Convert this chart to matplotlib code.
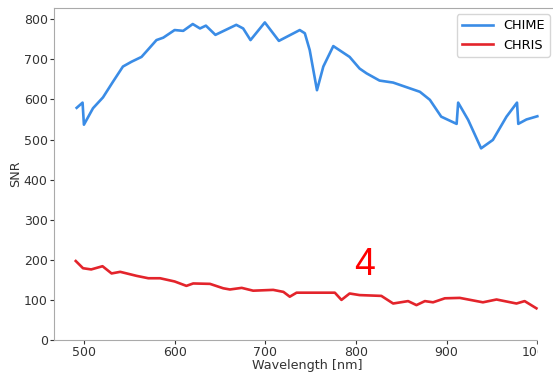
import matplotlib.pyplot as plt

# CHIME SNR
chime_wl = [492, 498.5, 500, 510, 521, 532, 543, 552.5, 563.5, 571, 580, 587.5,
            600, 609.5, 620, 628, 634.5, 645, 668, 675.6, 683.7, 699.5, 715, 738,
            743.6, 749, 757, 764, 775, 793, 804, 811.7, 826, 841, 870.5, 881.5,
            894, 911, 912.7, 923.7, 938, 951, 966, 977.6, 979, 988, 1000]
chime_snr = [579, 592, 537, 578, 605, 644, 682, 694, 706, 725, 748, 754,
             773, 771, 788, 777, 784, 761, 786, 777, 748, 792, 746, 773,
             765, 723, 623, 682, 733, 706, 677, 665, 647, 642, 619, 599,
             557, 539, 592, 549, 478, 499, 557, 592, 539, 550, 558]

# CHRIS SNR
chris_wl = [491, 499, 508, 520.5, 530.5, 540, 558, 571, 584, 600, 613, 620.5,
            639, 653.6, 661, 674, 686.6, 708.7, 720, 727, 734.5, 776.7, 784, 793,
            804, 828, 841, 857.5, 866.7, 876, 885, 898, 914.5, 940, 955, 977,
            986, 999]
chris_snr = [197, 179, 176, 184, 166, 170, 160, 154, 154, 146, 135, 141,
             140, 129, 126, 130, 123, 125, 120, 108, 118, 118, 100, 116,
             112, 110, 91, 97, 87, 97, 94, 104, 105, 94, 101, 91,
             97, 79]

fig = plt.figure(figsize=(5.53, 3.73), dpi=100)
# axes runs past the right edge, as in the cropped reference
ax = fig.add_axes([54 / 553, 33 / 373, 506 / 553, 332 / 373])

ax.plot(chime_wl, chime_snr, color='#3a8ce6', lw=1.9, label='CHIME')
ax.plot(chris_wl, chris_snr, color='#e3242b', lw=1.9, label='CHRIS')
ax.set_ylim(0, 828)
ax.set_xlim(467, 1025)
ax.set_xticks([500, 600, 700, 800, 900, 1000])
ax.set_yticks(range(0, 801, 100))

ax.tick_params(labelsize=9, colors='#333333', length=3, pad=1.5)
ax.spines['right'].set_visible(False)
for s in ax.spines.values():
    s.set_color('#aaaaaa')
ax.set_xlabel('Wavelength [nm]', fontsize=9.2, color='#333333', labelpad=0)
ax.set_ylabel('SNR', fontsize=9.2, color='#333333', labelpad=1)
ax.legend(loc='upper right', fontsize=9.3, handlelength=2.4,
          bbox_to_anchor=(550 / 553, 1 - 14 / 373),
          bbox_transform=fig.transFigure, borderaxespad=0)

# the reference is cut off just after the 1000 tick in its lower part
fig.patches.append(plt.Rectangle((538 / 553, 0), 20 / 553, 60 / 373,
                                 transform=fig.transFigure, color='white',
                                 zorder=10))

fig.text(365 / 553, 1 - 265 / 373, '4', color='red', fontsize=27,
         family='Liberation Sans', ha='center', va='center')

fig.savefig('out.png', dpi=100)
